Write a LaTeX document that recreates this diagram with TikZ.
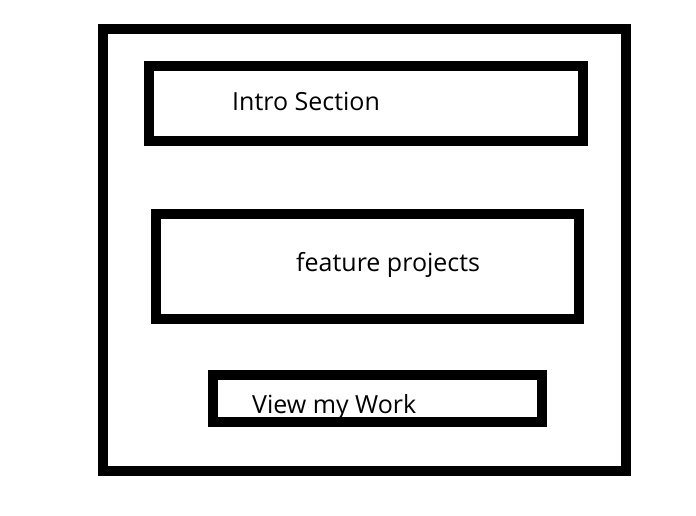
\documentclass[tikz,border=0pt]{standalone}
\usepackage{fontspec}
\setmainfont{Open Sans}
\tikzset{
  box/.style={draw, line width=10pt, inner sep=0pt, outer sep=0pt},
  txt/.style={anchor=base west, inner sep=0pt, font=\fontsize{25}{30}\selectfont}
}
\begin{document}
\begin{tikzpicture}[x=1pt, y=-1pt]
      \useasboundingbox (0,0) rectangle (696,516);
      \draw
        (232,111) node[txt] (introtext){Intro Section}
        (296,271) node[txt] (featuretext){feature projects}
        (252,413) node[txt] (worktext){View my Work};
      \begin{scope}[every node/.style=box]
        \node[minimum width=523pt, minimum height=442pt] (page) at (364.5,250) {};
        \node[minimum width=434pt, minimum height=75pt] (intro) at (366,103.5) {};
        \node[minimum width=423pt, minimum height=105pt] (features) at (367.5,266.5) {};
        \node[minimum width=329pt, minimum height=47pt] (work) at (377.5,398.5) {};
      \end{scope}
    \end{tikzpicture}
\end{document}
